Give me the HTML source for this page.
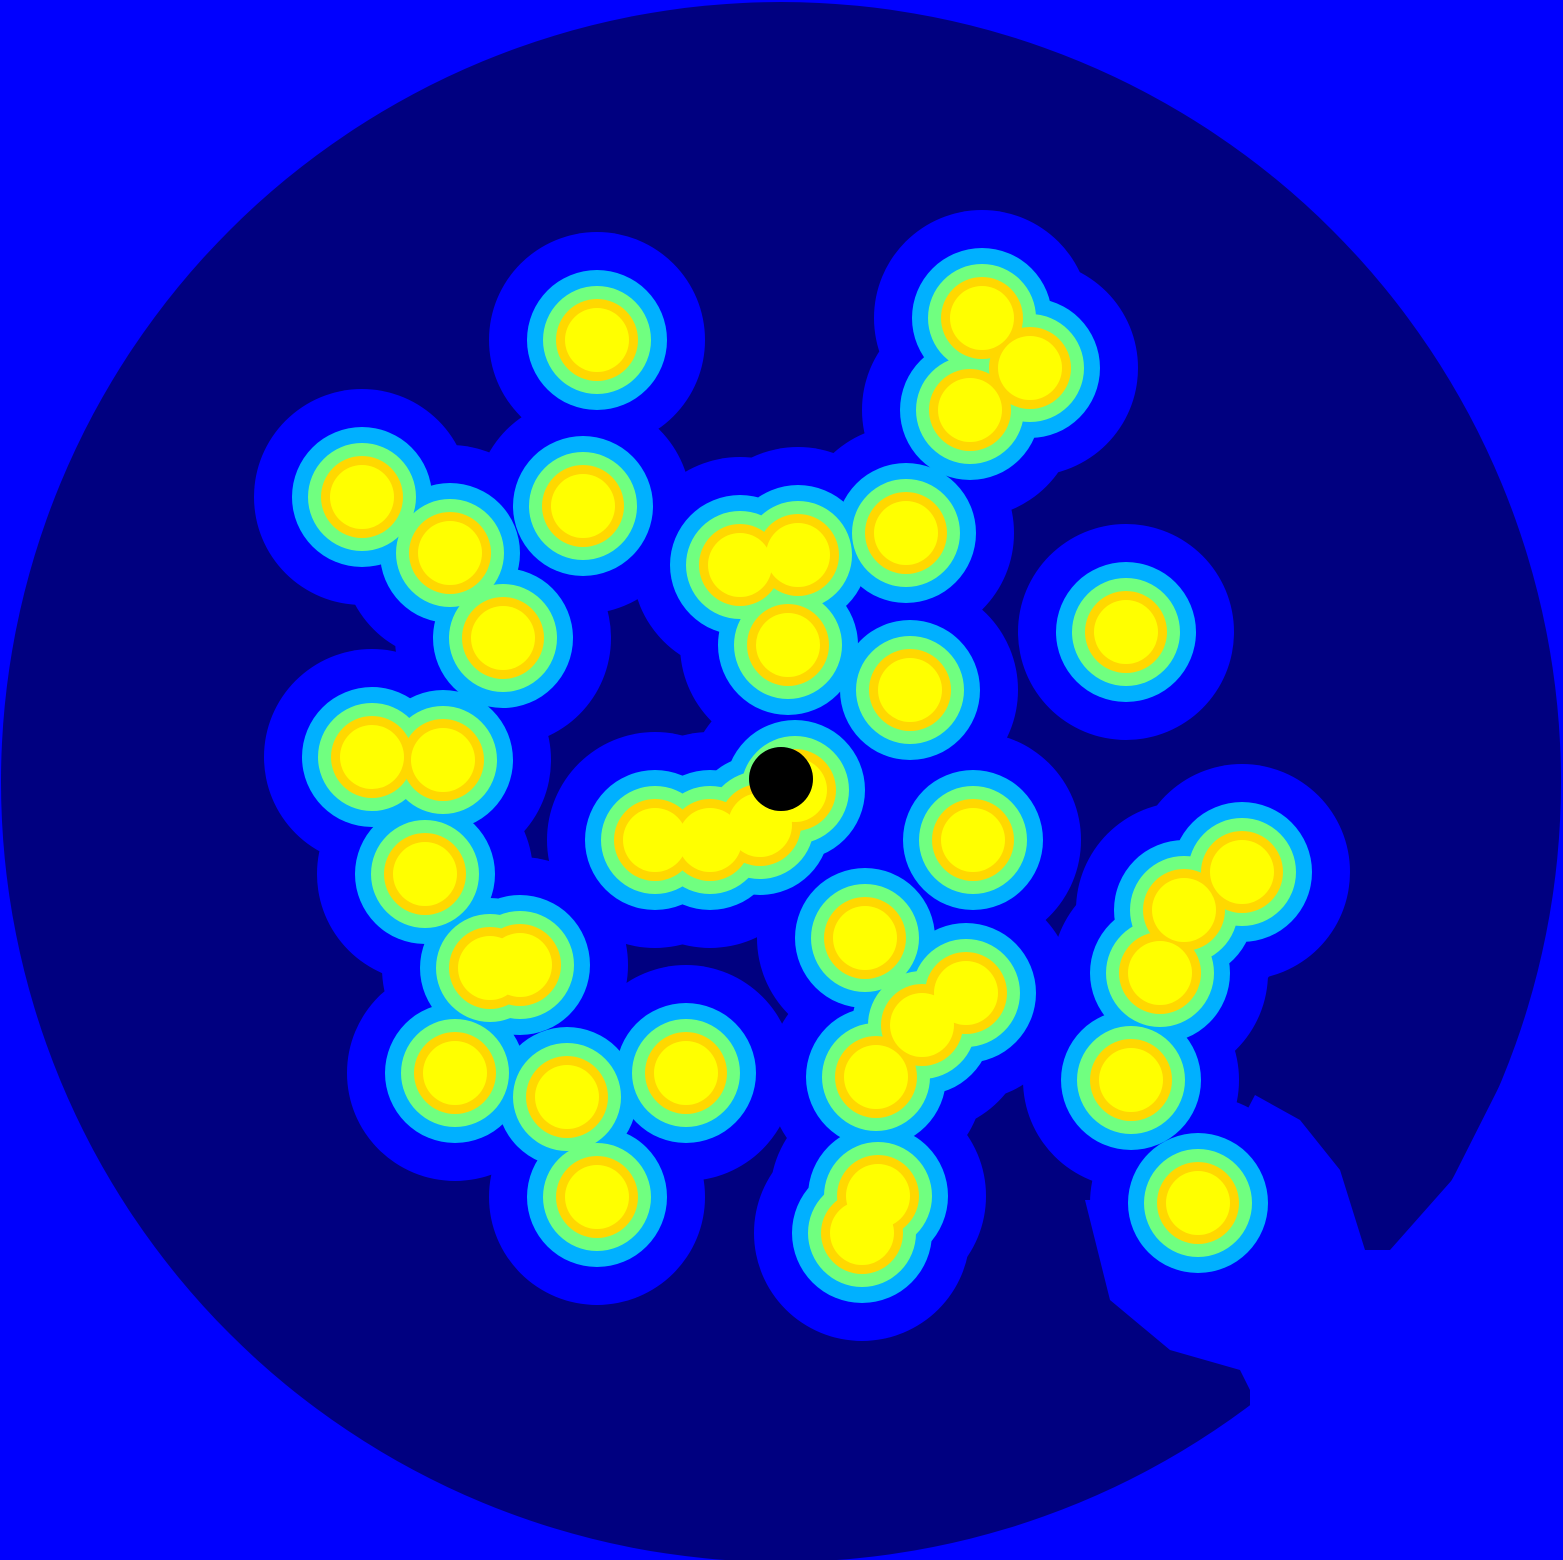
<!DOCTYPE html>
<html><head><meta charset="utf-8"><style>html,body{margin:0;padding:0;background:#0000ff;}svg{display:block}</style></head>
<body>
<svg id="chart" width="1563" height="1560" viewBox="0 0 1563 1560" xmlns="http://www.w3.org/2000/svg">
<rect x="0" y="0" width="1563" height="1560" fill="#0000ff"/>
<ellipse cx="781" cy="782" rx="780" ry="780" fill="#000080"/>
<polygon fill="#0000ff" points="1250,1390 1240,1370 1170,1350 1110,1300 1085,1200 1200,1200 1255,1095 1300,1120 1340,1170 1365,1250 1390,1250 1452,1180 1563,960 1563,1560 1250,1560"/>
<g id="layers"></g>
<circle cx="781" cy="779" r="32" fill="#000"/>
</svg>
<script>
const xs=[597,362,450,503,583,740,798,788,906,910,982,1030,970,1126,372,443,425,490,520,455,567,686,597,655,710,760,795,973,865,966,922,876,878,862,1242,1184,1160,1131,1198];
const ys=[340,497,553,638,506,565,555,645,533,690,318,368,410,632,757,760,874,968,965,1073,1097,1073,1197,840,840,825,790,840,938,993,1025,1077,1196,1233,872,910,973,1080,1203];
const levelNames=['level-1','level-2','level-3','level-4','level-5'];
const levelRadii=[108,70,54,41,32];
const levelColors=['#0000ff','#00b0ff','#70ff80','#ffd800','#ffff00'];
const NS='http://www.w3.org/2000/svg';
const g=document.getElementById('layers');
for(let l=0;l<levelRadii.length;l++){
  const lg=document.createElementNS(NS,'g');
  
  
  for(let i=0;i<xs.length;i++){
    const c=document.createElementNS(NS,'circle');
    
    
    c.setAttribute('cx',xs[i]);c.setAttribute('cy',ys[i]);
    c.setAttribute('r',levelRadii[l]);c.setAttribute('fill',levelColors[l]);
    lg.appendChild(c);
  }
  g.appendChild(lg);
}
</script>
</body></html>
